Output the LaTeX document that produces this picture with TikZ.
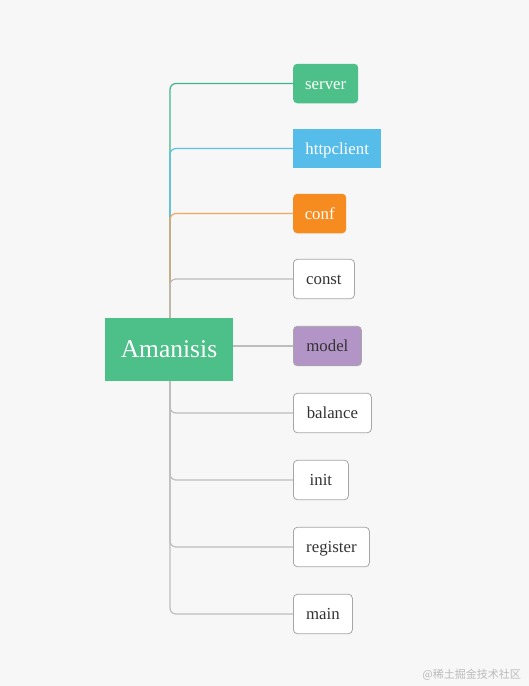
\documentclass[tikz,border=0pt]{standalone}
\usepackage{fontspec}
\setmainfont{Liberation Serif}
\newfontfamily\cjk{Noto Sans CJK SC}
\definecolor{bgc}{HTML}{F7F7F7}
\definecolor{cgreen}{HTML}{4DBF89}
\definecolor{cblue}{HTML}{56BDEB}
\definecolor{corange}{HTML}{F68C1F}
\definecolor{cpurple}{HTML}{B294C7}
\definecolor{lgray}{HTML}{BDBDBD}
\definecolor{bgray}{HTML}{A6A6A6}
\definecolor{tdark}{HTML}{333333}
\definecolor{lgreen}{HTML}{3FB58A}
\definecolor{lblue}{HTML}{5BBFE6}
\definecolor{lorange}{HTML}{F4A75A}
\definecolor{wmc}{HTML}{BBBBBB}
\begin{document}
\begin{tikzpicture}[x=1pt,y=-1pt,
  leaf/.style={anchor=west,inner sep=0pt,minimum height=39.5pt,text height=11.4pt,text depth=0pt,font=\fontsize{16.8}{18}\selectfont},
  filled/.style={leaf,rounded corners=4pt,text=white},
  plain/.style={leaf,rounded corners=4pt,draw=bgray,fill=white,line width=0.8pt,text=tdark},
  conn/.style={line width=1.2pt,rounded corners=6pt}]
\fill[bgc] (0,0) rectangle (529,686);
\useasboundingbox (0,0) rectangle (529,686);
\node[fill=cgreen,text=white,minimum width=128pt,minimum height=63pt,inner sep=0pt,text height=15.4pt,text depth=0pt,font=\fontsize{25.5}{28}\selectfont] (root) at (169,349.5) {Amanisis};
\node[filled,fill=cgreen,minimum width=65pt] (server) at (293,83.5) {server};
\node[leaf,fill=cblue,text=white,minimum width=88pt] (http) at (293,148.5) {httpclient};
\node[filled,fill=corange,minimum width=53pt] (conf) at (293,213.5) {conf};
\node[plain,minimum width=61pt] (const) at (293,279) {const};
\node[plain,fill=cpurple,draw=bgray,minimum width=68pt] (model) at (293,346) {model};
\node[plain,minimum width=78pt] (balance) at (293,413) {balance};
\node[plain,minimum width=55pt] (init) at (293,480) {init};
\node[plain,minimum width=76pt] (register) at (293,547) {register};
\node[plain,minimum width=59pt] (main) at (293,614) {main};
\draw[conn,lgreen] ([xshift=1pt]root.north) |- (server.west);
\draw[conn,lblue] ([xshift=1pt]root.north) |- (http.west);
\draw[conn,lorange] ([xshift=1pt]root.north) |- (conf.west);
\draw[conn,lgray] ([xshift=1pt]root.north) |- (const.west);
\draw[conn,lgray] (root.east |- model.west) -- (model.west);
\draw[conn,lgray] ([xshift=1pt]root.south) |- (balance.west);
\draw[conn,lgray] ([xshift=1pt]root.south) |- (init.west);
\draw[conn,lgray] ([xshift=1pt]root.south) |- (register.west);
\draw[conn,lgray] ([xshift=1pt]root.south) |- (main.west);
\node[anchor=east,text=wmc,font=\cjk\fontsize{11}{12}\selectfont,inner sep=0pt] (wm) at (521,675) {@稀土掘金技术社区};
\end{tikzpicture}
\end{document}
